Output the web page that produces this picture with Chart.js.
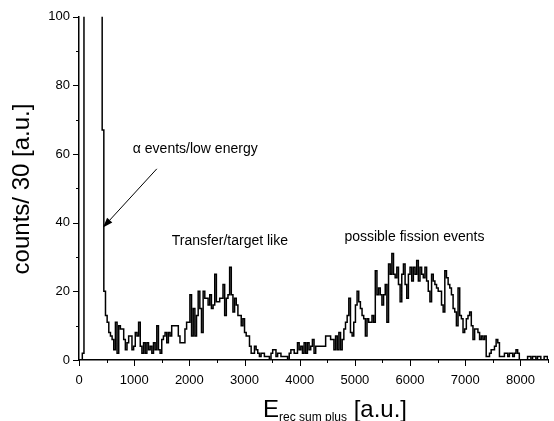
<!DOCTYPE html>
<html><head><meta charset="utf-8">
<script src="https://cdn.jsdelivr.net/npm/chart.js@4.4.1/dist/chart.umd.min.js"></script>
<style>html,body{margin:0;padding:0;background:#fff;}canvas{display:block;}</style>
</head><body>
<canvas id="c" width="554" height="421"></canvas>
<script>
// Histogram: bin width 30 [a.u.], bins start at 0
const binWidth = 30;
const counts = [
  0,0,2,400,900,1200,1100,900,700,500,
  350,250,180,120,67,20,13,11,8,7,
  6,3,11,2,10,9,9,6,3,5,
  7,7,3,4,8,7,11,4,2,5,
  2,5,3,4,2,5,3,10,3,2,
  6,7,8,5,8,7,10,10,10,10,
  7,5,5,5,9,11,11,19,7,15,
  7,13,20,15,8,20,18,18,16,19,
  15,16,25,17,17,18,18,22,13,18,
  19,27,19,14,18,16,13,13,10,12,
  8,7,7,4,2,2,4,3,2,1,
  2,2,1,1,1,0,2,3,3,1,
  2,2,1,1,1,1,0,2,3,3,
  2,2,5,3,4,2,5,2,5,3,
  4,6,2,4,4,4,4,4,4,7,
  7,7,6,6,3,7,3,8,3,6,
  9,11,13,18,8,7,11,16,20,17,
  15,13,12,7,12,11,11,13,11,26,
  19,21,19,16,19,22,11,28,25,31,
  25,24,27,22,17,25,28,22,18,25,
  27,23,27,25,29,23,27,25,24,27,
  23,20,17,25,23,22,21,20,20,16,
  14,26,24,22,21,19,15,14,10,21,
  13,12,8,9,12,13,14,10,6,9,
  9,8,6,7,6,7,1,1,2,3,
  3,4,6,5,1,1,1,2,2,1,
  2,2,1,2,3,2,0,0,0,0,
  0,1,1,0,1,1,0,1,1,0,
  0,1,1,0
];
const xTickValues = [0,1000,2000,3000,4000,5000,6000,7000,8000];
const yTickValues = [0,20,40,60,80,100];
const xRange = [0, 8500];
const yRange = [0, 100];
const xMinorStep = 500;
const yMinorStep = 10;

const labels = [
  {text:'\u03b1 events/low energy', x:976, y:61.4},
  {text:'Transfer/target like', x:1682, y:34.5},
  {text:'possible fission events', x:4810, y:35.9}
];
const arrowSpec = {fromX:1410, fromY:55.7, toX:434, toY:38.6};

const points = counts.map((c,i)=>({x:i*binWidth, y:c}));
points.push({x:counts.length*binWidth, y:counts[counts.length-1]});

const FONT = '"Liberation Sans", Arial, Helvetica, sans-serif';

const deco = {
  id:'deco',
  afterDraw(chart){
    const {ctx, chartArea:a, scales:{x, y}} = chart;
    ctx.save();
    ctx.strokeStyle = '#000';
    ctx.fillStyle = '#000';
    ctx.lineWidth = 1;
    for (let v = xRange[0]; v <= xRange[1]; v += xMinorStep) {
      const px = Math.round(x.getPixelForValue(v)) + 0.5;
      const len = (v % 1000 === 0) ? 6 : 3;
      ctx.beginPath(); ctx.moveTo(px, a.bottom); ctx.lineTo(px, a.bottom + len); ctx.stroke();
    }
    for (let v = yRange[0]; v <= yRange[1]; v += yMinorStep) {
      const py = Math.round(y.getPixelForValue(v)) + 0.5;
      const len = (v % 20 === 0) ? 6 : 3;
      ctx.beginPath(); ctx.moveTo(a.left, py); ctx.lineTo(a.left - len, py); ctx.stroke();
    }
    ctx.font = '14px ' + FONT;
    ctx.textBaseline = 'middle';
    ctx.textAlign = 'left';
    labels.forEach(l => ctx.fillText(l.text, x.getPixelForValue(l.x), y.getPixelForValue(l.y)));
    const x1 = x.getPixelForValue(arrowSpec.fromX), y1 = y.getPixelForValue(arrowSpec.fromY);
    const x2 = x.getPixelForValue(arrowSpec.toX), y2 = y.getPixelForValue(arrowSpec.toY);
    const ang = Math.atan2(y2 - y1, x2 - x1);
    const hl = 10, hw = 3.5;
    const bx = x2 - hl*Math.cos(ang), by = y2 - hl*Math.sin(ang);
    ctx.beginPath(); ctx.moveTo(x1, y1); ctx.lineTo(bx, by); ctx.stroke();
    ctx.beginPath();
    ctx.moveTo(x2, y2);
    ctx.lineTo(bx + hw*Math.sin(ang), by - hw*Math.cos(ang));
    ctx.lineTo(bx - hw*Math.sin(ang), by + hw*Math.cos(ang));
    ctx.closePath(); ctx.fill();
    // y title
    ctx.save();
    ctx.translate(22, 189);
    ctx.rotate(-Math.PI/2);
    ctx.font = '24px ' + FONT;
    ctx.textAlign = 'center';
    ctx.textBaseline = 'middle';
    ctx.fillText('counts/ 30 [a.u.]', 0, 0);
    ctx.restore();
    // x title with subscript
    ctx.textBaseline = 'alphabetic';
    ctx.textAlign = 'left';
    const mainF = '24px ' + FONT, subF = '12px ' + FONT;
    ctx.font = mainF; const wE = ctx.measureText('E').width; const wU = ctx.measureText(' [a.u.]').width;
    ctx.font = subF; const wS = ctx.measureText('rec sum plus').width;
    let sx = 335 - (wE + wS + wU)/2;
    const base = 417;
    ctx.font = mainF; ctx.fillText('E', sx, base); sx += wE;
    ctx.font = subF; ctx.fillText('rec sum plus', sx, base + 3.5); sx += wS;
    ctx.font = mainF; ctx.fillText(' [a.u.]', sx, base);
    ctx.restore();
  }
};

new Chart(document.getElementById('c'), {
  type:'line',
  data:{datasets:[{
    data:points,
    stepped:true,
    borderColor:'#000',
    borderWidth:1.5,
    pointRadius:0,
    fill:false,
    tension:0
  }]},
  options:{
    responsive:false,
    animation:false,
    devicePixelRatio:1,
    layout:{padding:{top:15, right:6, left:0, bottom:0}},
    plugins:{legend:{display:false}, tooltip:{enabled:false}},
    scales:{
      x:{
        type:'linear', min:xRange[0], max:xRange[1],
        afterBuildTicks:s=>{ s.ticks = xTickValues.map(v=>({value:v})); },
        afterFit:s=>{ s.height = 61; },
        grid:{display:false, drawTicks:false},
        border:{display:true, color:'#000', width:1.5},
        ticks:{color:'#000', padding:13, maxRotation:0, autoSkip:false, font:{family:FONT, size:13}, callback:v=>String(v)}
      },
      y:{
        type:'linear', min:yRange[0], max:yRange[1],
        afterBuildTicks:s=>{ s.ticks = yTickValues.map(v=>({value:v})); },
        afterFit:s=>{ s.width = 79; },
        grid:{display:false, drawTicks:false},
        border:{display:true, color:'#000', width:1.5},
        ticks:{color:'#000', padding:9, autoSkip:false, font:{family:FONT, size:13}, callback:v=>String(v)}
      }
    }
  },
  plugins:[deco]
});
</script>
</body></html>
